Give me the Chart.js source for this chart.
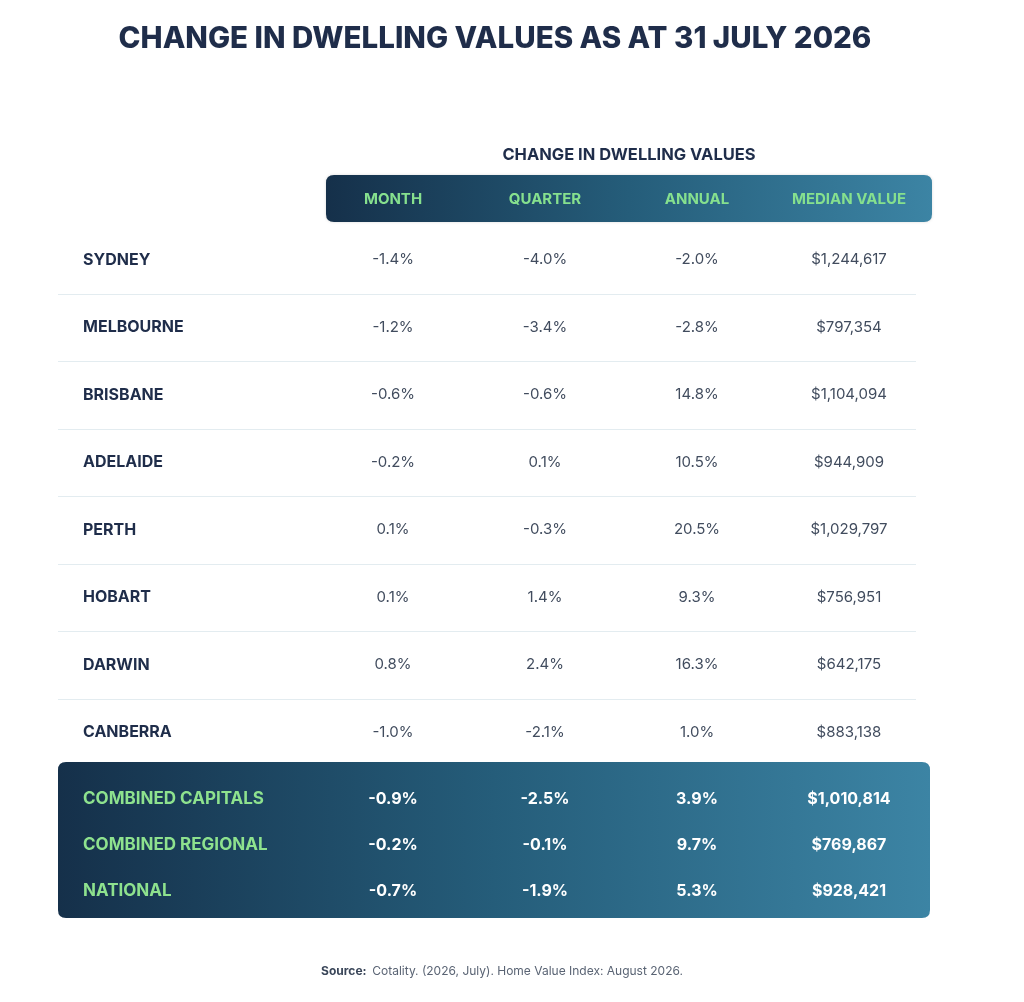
<!DOCTYPE html>
<html><head><meta charset="utf-8">
<script src="https://cdn.jsdelivr.net/npm/chart.js@4.4.1/dist/chart.umd.min.js"></script>
<style>
html,body{margin:0;padding:0;background:#fff;}
#wrap{position:relative;width:1024px;height:1002px;overflow:hidden;}
.box{position:absolute;left:0;}
</style></head><body>
<div id="wrap">
  <div class="box" style="top:0;width:1024px;height:1002px"><canvas id="tableA"></canvas></div>
  <div class="box" style="top:762px;width:1024px;height:165px"><canvas id="tableB"></canvas></div>
</div>
<script>
// ---------- data ----------
const titleText = 'CHANGE IN DWELLING VALUES AS AT 31 JULY 2026';
const groupText = 'CHANGE IN DWELLING VALUES';
const columns = ['MONTH', 'QUARTER', 'ANNUAL', 'MEDIAN VALUE'];

const cities = ['SYDNEY', 'MELBOURNE', 'BRISBANE', 'ADELAIDE', 'PERTH', 'HOBART', 'DARWIN', 'CANBERRA'];
const cityMonth   = [-1.4, -1.2, -0.6, -0.2, 0.1, 0.1, 0.8, -1.0];
const cityQuarter = [-4.0, -3.4, -0.6, 0.1, -0.3, 1.4, 2.4, -2.1];
const cityAnnual  = [-2.0, -2.8, 14.8, 10.5, 20.5, 9.3, 16.3, 1.0];
const cityMedian  = [1244617, 797354, 1104094, 944909, 1029797, 756951, 642175, 883138];

const summaryRows    = ['COMBINED CAPITALS', 'COMBINED REGIONAL', 'NATIONAL'];
const summaryMonth   = [-0.9, -0.2, -0.7];
const summaryQuarter = [-2.5, -0.1, -1.9];
const summaryAnnual  = [3.9, 9.7, 5.3];
const summaryMedian  = [1010814, 769867, 928421];

const sourceLabel = 'Source:';
const sourceText = 'Cotality. (2026, July). Home Value Index: August 2026.';

// ---------- helpers ----------
const FONT = 'Inter, "Noto Sans", "DejaVu Sans", sans-serif';
const fmtPct = v => v.toFixed(1) + '%';
const fmtMoney = v => '$' + v.toLocaleString('en-US');
const formats = [fmtPct, fmtPct, fmtPct, fmtMoney];

function cellDatasets(rows, colValues) {
  return colValues.map((vals, ci) => ({
    label: columns[ci],
    data: rows.map((r, ri) => ({ x: columns[ci], y: r, v: vals[ri] })),
    pointRadius: 0, pointHoverRadius: 0, showLine: false
  }));
}

function roundRect(ctx, x, y, w, h, r) {
  ctx.beginPath();
  ctx.moveTo(x + r, y);
  ctx.lineTo(x + w - r, y); ctx.quadraticCurveTo(x + w, y, x + w, y + r);
  ctx.lineTo(x + w, y + h - r); ctx.quadraticCurveTo(x + w, y + h, x + w - r, y + h);
  ctx.lineTo(x + r, y + h); ctx.quadraticCurveTo(x, y + h, x, y + h - r);
  ctx.lineTo(x, y + r); ctx.quadraticCurveTo(x, y, x + r, y);
  ctx.closePath();
}
function tealGradient(ctx, x0, x1) {
  const g = ctx.createLinearGradient(x0, 0, x1, 0);
  g.addColorStop(0, '#15304a');
  g.addColorStop(0.5, '#255d7a');
  g.addColorStop(1, '#3c84a4');
  return g;
}

const cellText = {
  id: 'cellText',
  afterDatasetsDraw(chart, args, opts) {
    const ctx = chart.ctx;
    ctx.save();
    ctx.font = opts.fontSpec;
    ctx.fillStyle = opts.textColor;
    ctx.textAlign = 'center';
    ctx.textBaseline = 'middle';
    chart.data.datasets.forEach((ds, di) => {
      const meta = chart.getDatasetMeta(di);
      meta.data.forEach((pt, i) => {
        ctx.fillText(formats[di](ds.data[i].v), pt.x, pt.y);
      });
    });
    ctx.restore();
  }
};

const decorA = {
  id: 'decorA',
  beforeDraw(chart) {
    const ctx = chart.ctx, ys = chart.scales.y, ca = chart.chartArea;
    ctx.save();
    ctx.fillStyle = '#ffffff';
    ctx.fillRect(0, 0, chart.width, chart.height);
    // title
    ctx.fillStyle = '#1f2d4a';
    ctx.textAlign = 'center';
    ctx.textBaseline = 'middle';
    ctx.font = '800 29.5px ' + FONT;
    ctx.fillText(titleText, 495, 39);
    // header bar
    const bx0 = ca.left + 9, bx1 = ca.right + 7;
    const by0 = ca.top - 51, by1 = ca.top - 4;
    ctx.font = '700 16.5px ' + FONT;
    ctx.fillText(groupText, (bx0 + bx1) / 2, 155);
    ctx.shadowColor = 'rgba(0,0,0,0.15)';
    ctx.shadowBlur = 3;
    ctx.fillStyle = tealGradient(ctx, bx0, bx1);
    roundRect(ctx, bx0, by0, bx1 - bx0, by1 - by0, 8);
    ctx.fill();
    ctx.shadowBlur = 0; ctx.shadowColor = 'transparent';
    // separators between rows
    ctx.strokeStyle = '#e3ecf0';
    ctx.lineWidth = 1;
    for (let i = 1; i < cities.length; i++) {
      const yb = Math.round((ys.getPixelForValue(i - 1) + ys.getPixelForValue(i)) / 2) + 0.5;
      ctx.beginPath(); ctx.moveTo(58, yb); ctx.lineTo(916, yb); ctx.stroke();
    }
    // source
    ctx.font = '700 12px ' + FONT;
    const w1 = ctx.measureText(sourceLabel + '  ').width;
    ctx.font = '400 12px ' + FONT;
    const w2 = ctx.measureText(sourceText).width;
    let sx = 502 - (w1 + w2) / 2;
    ctx.textAlign = 'left';
    ctx.fillStyle = '#3a4659';
    ctx.font = '700 12px ' + FONT;
    ctx.fillText(sourceLabel, sx, 971);
    ctx.fillStyle = '#5a6474';
    ctx.font = '400 12px ' + FONT;
    ctx.fillText(sourceText, sx + w1, 971);
    ctx.restore();
  }
};

const decorB = {
  id: 'decorB',
  beforeDraw(chart) {
    const ctx = chart.ctx;
    ctx.save();
    ctx.clearRect(0, 0, chart.width, chart.height);
    ctx.fillStyle = tealGradient(ctx, 58, 930);
    roundRect(ctx, 58, 0, 872, 156, 8);
    ctx.fill();
    ctx.restore();
  }
};

// ---------- chart A: header + city rows ----------
new Chart(document.getElementById('tableA'), {
  type: 'scatter',
  data: { datasets: cellDatasets(cities, [cityMonth, cityQuarter, cityAnnual, cityMedian]) },
  plugins: [decorA, cellText],
  options: {
    responsive: true, maintainAspectRatio: false, animation: false, events: [],
    layout: { padding: { left: 83, right: 99, top: 166, bottom: 236 } },
    plugins: {
      legend: { display: false }, tooltip: { enabled: false },
      cellText: { fontSpec: '400 15px ' + FONT, textColor: '#414c5e' }
    },
    scales: {
      x: {
        type: 'category', labels: columns, position: 'top', offset: true,
        grid: { display: false, drawTicks: false }, border: { display: false },
        ticks: { color: '#86e08e', font: { family: FONT, size: 15, weight: '700' }, padding: 18, maxRotation: 0, autoSkip: false },
        afterFit(s) { s.height = 60; }
      },
      y: {
        type: 'category', labels: cities, offset: true,
        grid: { display: false, drawTicks: false }, border: { display: false },
        ticks: { color: '#1f2d4a', crossAlign: 'far', font: { family: FONT, size: 16, weight: '700' }, autoSkip: false },
        afterFit(s) { s.width = 234; }
      }
    }
  }
});

// ---------- chart B: summary rows ----------
new Chart(document.getElementById('tableB'), {
  type: 'scatter',
  data: { datasets: cellDatasets(summaryRows, [summaryMonth, summaryQuarter, summaryAnnual, summaryMedian]) },
  plugins: [decorB, cellText],
  options: {
    responsive: true, maintainAspectRatio: false, animation: false, events: [],
    layout: { padding: { left: 83, right: 99, top: 14, bottom: 12 } },
    plugins: {
      legend: { display: false }, tooltip: { enabled: false },
      cellText: { fontSpec: '700 16px ' + FONT, textColor: '#ffffff' }
    },
    scales: {
      x: {
        type: 'category', labels: columns, offset: true, display: false
      },
      y: {
        type: 'category', labels: summaryRows, offset: true,
        grid: { display: false, drawTicks: false }, border: { display: false },
        ticks: { color: '#8ee28e', crossAlign: 'far', font: { family: FONT, size: 17, weight: '700' }, autoSkip: false },
        afterFit(s) { s.width = 234; }
      }
    }
  }
});
</script>
</body></html>
